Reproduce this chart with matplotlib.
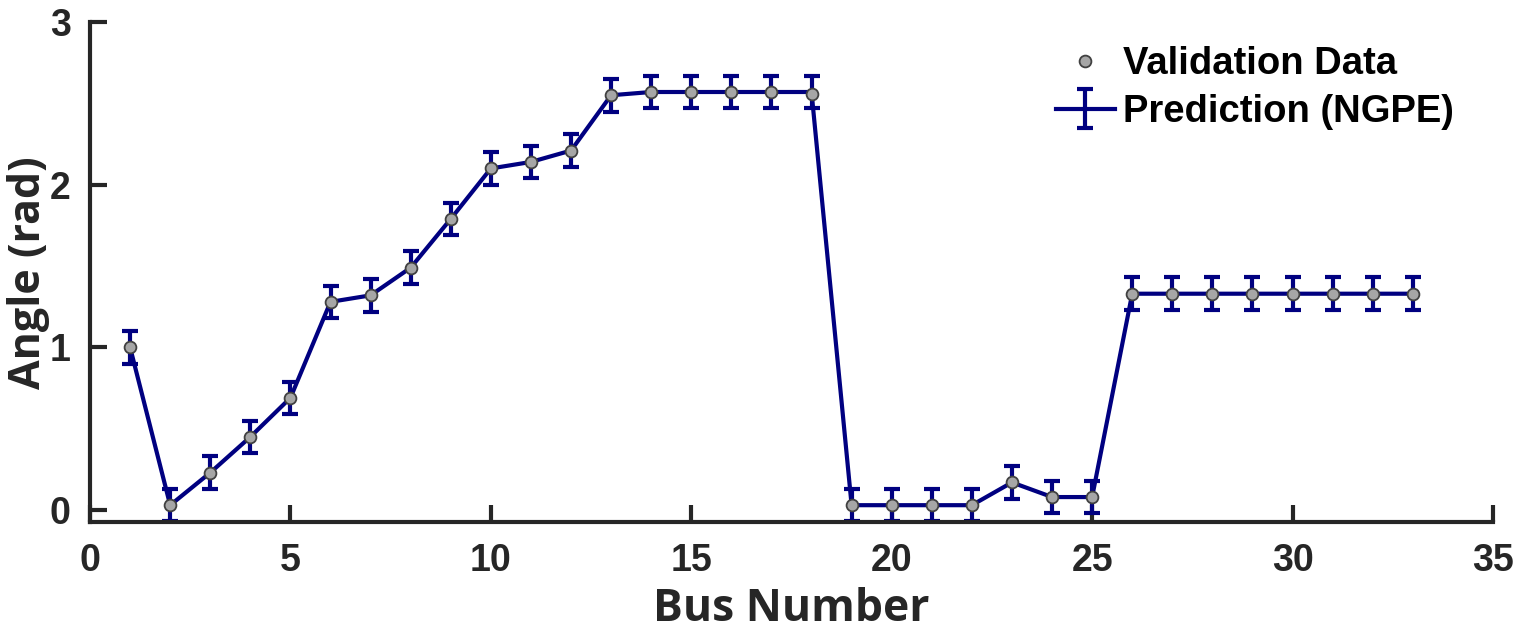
import numpy as np
import matplotlib.pyplot as plt

plt.rcParams['font.family'] = ['Liberation Sans', 'DejaVu Sans']
plt.rcParams['font.weight'] = 'bold'

# bus number and angles (rad)
bus = np.arange(1, 34)
validation = [1.00, 0.03, 0.23, 0.45, 0.69, 1.28, 1.32, 1.49, 1.79, 2.10, 2.14,
              2.21, 2.55, 2.57, 2.57, 2.57, 2.57, 2.56, 0.03, 0.03, 0.03, 0.03,
              0.17, 0.08, 0.08, 1.33, 1.33, 1.33, 1.33, 1.33, 1.33, 1.33, 1.33]
prediction = [1.00, 0.03, 0.23, 0.45, 0.69, 1.28, 1.32, 1.49, 1.79, 2.10, 2.14,
              2.21, 2.55, 2.57, 2.57, 2.57, 2.57, 2.57, 0.03, 0.03, 0.03, 0.03,
              0.17, 0.08, 0.08, 1.33, 1.33, 1.33, 1.33, 1.33, 1.33, 1.33, 1.33]
pred_err = [0.10] * 33

navy = '#000080'
dark = '#262626'

fig = plt.figure(figsize=(15.18, 6.3), dpi=100)
ax = fig.add_axes([0.0593, 0.171, 0.9242, 0.794])

ax.plot(bus, validation, 'o', ms=8.5, mfc='#a6a6a6', mec='#404040', mew=1.3,
        zorder=3, label='Validation Data')
ax.errorbar(bus, prediction, yerr=pred_err, color=navy, lw=3, elinewidth=3,
            capsize=5.5, capthick=3, zorder=2, label='Prediction (NGPE)')

ax.set_xlim(0, 35)
ax.set_ylim(-0.075, 3)
ax.set_xticks(np.arange(0, 36, 5))
ax.set_yticks([0, 1, 2, 3])

for s in ['top', 'right']:
    ax.spines[s].set_visible(False)
for s in ['left', 'bottom']:
    ax.spines[s].set_color(dark)
    ax.spines[s].set_linewidth(3)
ax.tick_params(direction='in', length=12, width=3, color=dark,
               labelsize=27, labelcolor=dark)
ax.tick_params(axis='x', pad=15)
ax.tick_params(axis='y', pad=14)
for lab in ax.get_xticklabels() + ax.get_yticklabels():
    lab.set_fontweight('bold')

ax.set_xlabel('Bus Number', fontsize=32, fontweight='bold', color=dark,
              family=['Open Sans', 'DejaVu Sans'], labelpad=6)
ax.set_ylabel('Angle (rad)', fontsize=31, fontweight='bold', color=dark,
              family=['Open Sans', 'DejaVu Sans'], labelpad=0)

leg = ax.legend(loc='upper right', bbox_to_anchor=(0.997, 1.02), frameon=False,
                handlelength=1.55, handletextpad=0.22, labelspacing=0.3,
                prop={'weight': 'bold', 'size': 27.5})
for t in leg.get_texts():
    t.set_color('black')

fig.savefig('out.png', dpi=100)
